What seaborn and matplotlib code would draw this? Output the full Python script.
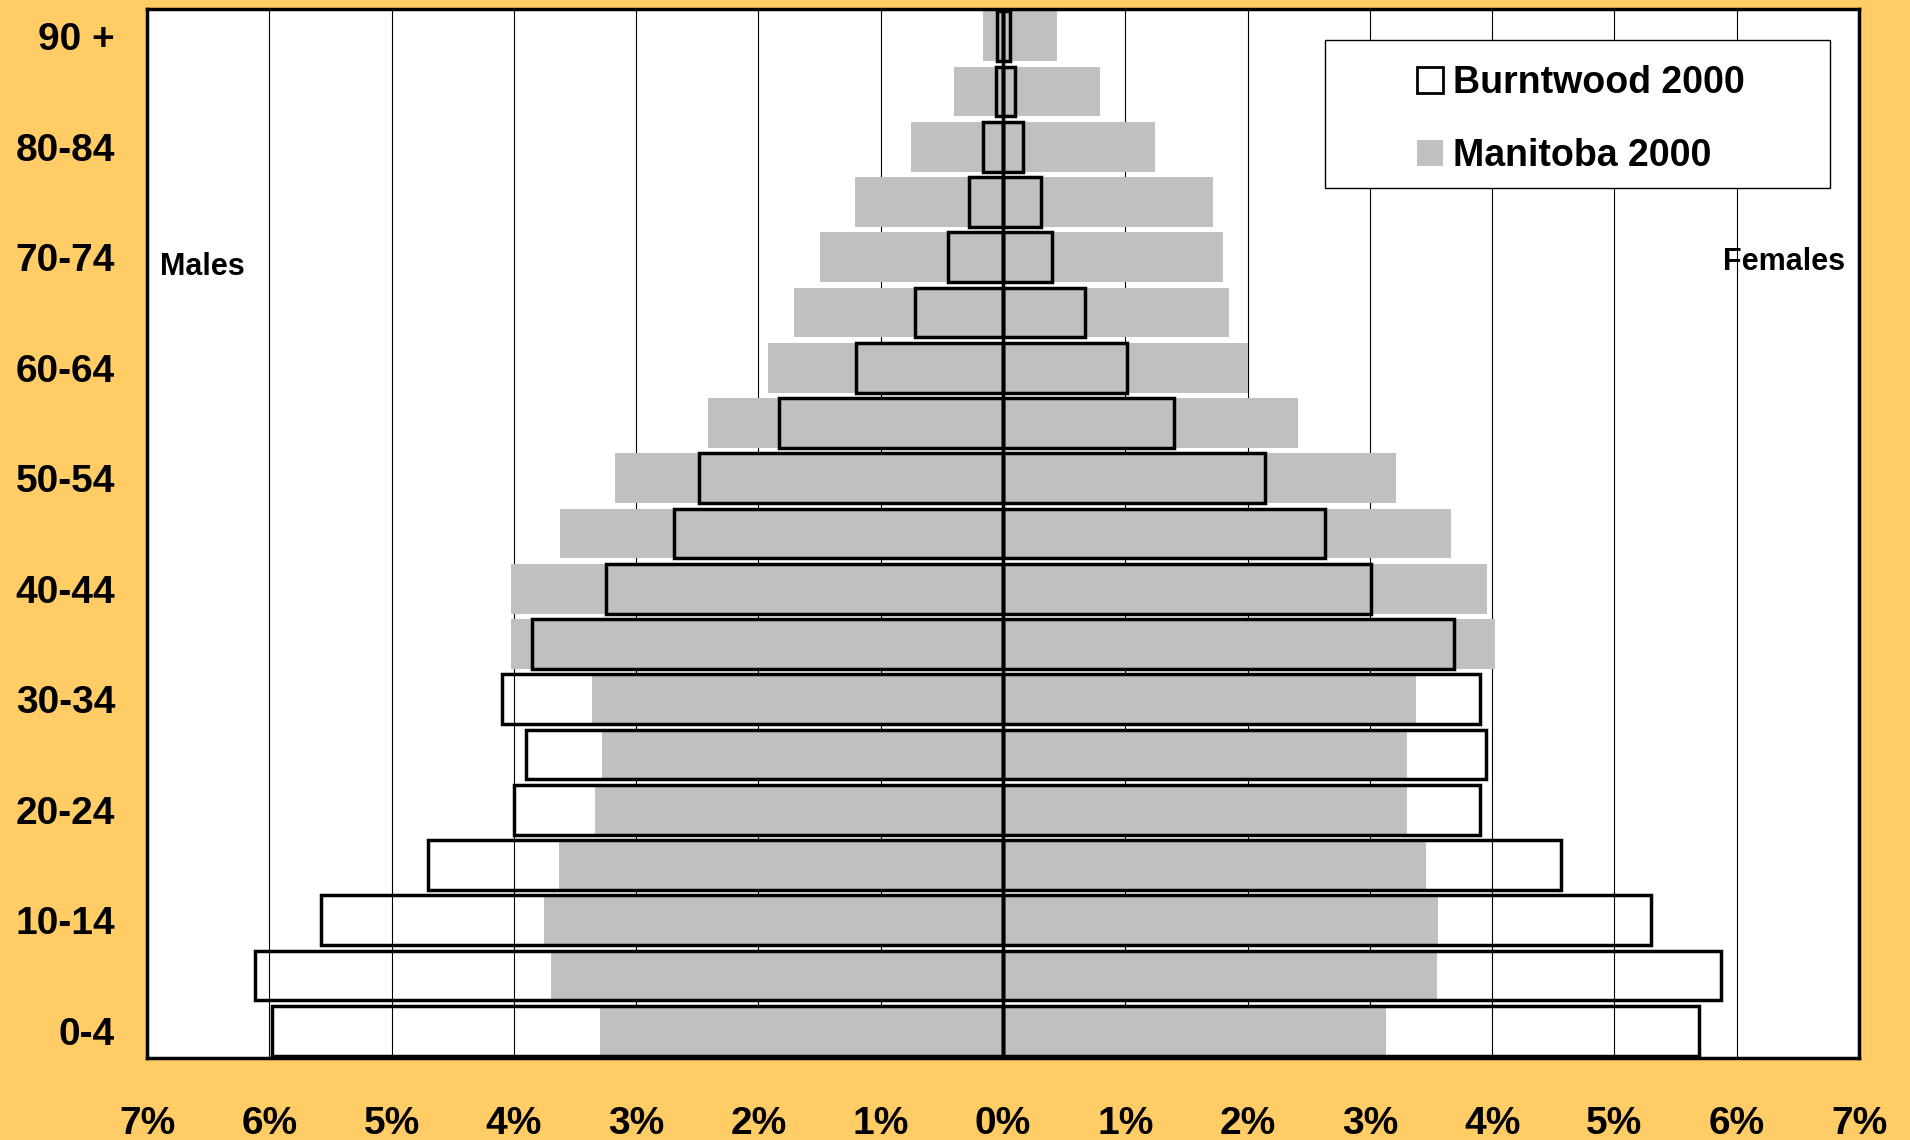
import matplotlib
matplotlib.use("Agg")
import matplotlib.pyplot as plt
import pandas as pd
import seaborn as sns
from matplotlib.patches import Patch, Rectangle

# Age groups, youngest first
age_groups = ["0-4", "5-9", "10-14", "15-19", "20-24", "25-29", "30-34",
              "35-39", "40-44", "45-49", "50-54", "55-59", "60-64",
              "65-69", "70-74", "75-79", "80-84", "85-89", "90 +"]

# Share of total population (%) per age group
manitoba_male = [3.30, 3.70, 3.75, 3.63, 3.34, 3.28, 3.36, 4.02, 4.02, 3.62,
                 3.17, 2.41, 1.92, 1.71, 1.50, 1.21, 0.75, 0.40, 0.16]
manitoba_female = [3.13, 3.55, 3.56, 3.46, 3.30, 3.30, 3.38, 4.02, 3.96, 3.66,
                   3.21, 2.41, 2.00, 1.85, 1.80, 1.72, 1.24, 0.79, 0.44]
burntwood_male = [5.98, 6.12, 5.58, 4.70, 4.00, 3.90, 4.10, 3.85, 3.25, 2.69,
                  2.49, 1.83, 1.20, 0.72, 0.45, 0.28, 0.165, 0.055, 0.05]
burntwood_female = [5.69, 5.87, 5.30, 4.56, 3.90, 3.95, 3.90, 3.69, 3.01, 2.63,
                    2.14, 1.40, 1.01, 0.67, 0.40, 0.31, 0.16, 0.10, 0.06]

x_ticks = list(range(-7, 8))
x_tick_labels = [f"{abs(t)}%" for t in x_ticks]

sns.set_style("white")
plt.rcParams["font.family"] = ["Liberation Sans", "DejaVu Sans"]
plt.rcParams["font.weight"] = "bold"
plt.rcParams["text.color"] = "black"
plt.rcParams["xtick.color"] = "black"
plt.rcParams["ytick.color"] = "black"
plt.rcParams["xtick.labelcolor"] = "black"
plt.rcParams["ytick.labelcolor"] = "black"

BG = "#FFCC66"
GREY = "#C0C0C0"

fig = plt.figure(figsize=(19.1, 11.4), dpi=100, facecolor=BG)
ax = fig.add_axes([0.0770, 0.0715, 0.8963, 0.9210])
ax.set_facecolor("white")

order = age_groups[::-1]

df = pd.DataFrame({
    "age": age_groups,
    "mb_m": [-v for v in manitoba_male],
    "mb_f": manitoba_female,
    "bw_m": [-v for v in burntwood_male],
    "bw_f": burntwood_female,
})

# Manitoba: solid grey bars
for col in ("mb_m", "mb_f"):
    sns.barplot(data=df, x=col, y="age", order=order, orient="y",
                color=GREY, saturation=1, width=0.9, linewidth=0,
                errorbar=None, ax=ax, zorder=2)

# Burntwood: black outlines on top
for col in ("bw_m", "bw_f"):
    sns.barplot(data=df, x=col, y="age", order=order, orient="y",
                fill=False, color="black", width=0.9, linewidth=2.5,
                errorbar=None, ax=ax, zorder=3)

ax.axvline(0, color="black", lw=2.5, zorder=4)

ax.set_xlim(-7, 7)
ax.set_ylim(len(order) - 0.5, -0.5)
ax.set_xticks(x_ticks)
ax.set_xticklabels(x_tick_labels)
ax.set_yticks(range(0, len(order), 2))
ax.set_yticklabels([order[i] for i in range(0, len(order), 2)])
ax.set_xlabel("")
ax.set_ylabel("")

ax.grid(axis="x", color="black", lw=0.8)
ax.grid(axis="y", visible=False)
ax.set_axisbelow(True)

ax.tick_params(axis="x", direction="out", length=9.5, width=1, color="black",
               pad=25, labelsize=28, labelcolor="black")
ax.tick_params(axis="y", length=0, pad=23, labelsize=28, labelcolor="black")
for lab in ax.get_xticklabels() + ax.get_yticklabels():
    lab.set_fontweight("bold")

for s in ax.spines.values():
    s.set_visible(True)
    s.set_color("black")
    s.set_linewidth(2.5)
    s.set_zorder(5)

ax.text(0.0076, 0.754, "Males", transform=ax.transAxes, ha="left",
        va="center", fontsize=22, fontweight="bold", color="black", zorder=6)
ax.text(0.9918, 0.759, "Females", transform=ax.transAxes, ha="right",
        va="center", fontsize=22, fontweight="bold", color="black", zorder=6)

# Legend box
ax.add_patch(Rectangle((0.688, 0.829), 0.295, 0.141, transform=ax.transAxes,
                       facecolor="white", edgecolor="black", lw=1, zorder=7))
handles = [Patch(facecolor="white", edgecolor="black", lw=2,
                 label="Burntwood 2000"),
           Patch(facecolor=GREY, edgecolor="none", label="Manitoba 2000")]
leg = ax.legend(handles=handles, loc="upper left",
                bbox_to_anchor=(0.7418, 0.946), frameon=False,
                borderpad=0, borderaxespad=0, handlelength=0.7,
                handleheight=0.7, handletextpad=0.25, labelspacing=0.98,
                prop={"size": 27, "weight": "bold"})
for t in leg.get_texts():
    t.set_color("black")
leg.set_zorder(8)

fig.savefig("out.png", dpi=100, facecolor=BG)
